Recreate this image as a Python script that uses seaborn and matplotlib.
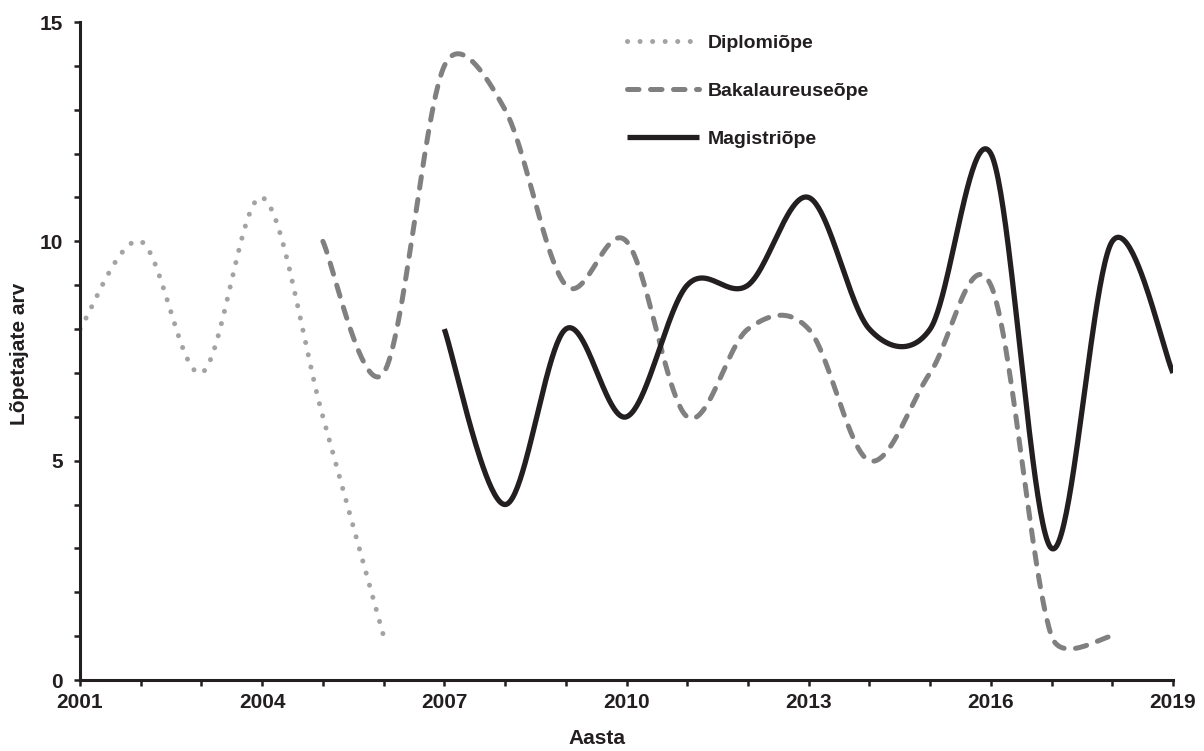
import numpy as np
import pandas as pd
import matplotlib
matplotlib.use("Agg")
import matplotlib.pyplot as plt
import seaborn as sns
from matplotlib.ticker import MultipleLocator, FixedLocator

# ---- data ----
dipl_years = [2001, 2002, 2003, 2004, 2005, 2006]
dipl_vals = [8, 10, 7, 11, 6, 1]

bak_years = [2005, 2006, 2007, 2008, 2009, 2010, 2011, 2012, 2013, 2014, 2015, 2016, 2017, 2018]
bak_vals = [10, 7, 14, 13, 9, 10, 6, 8, 8, 5, 7, 9, 1, 1]

mag_years = [2007, 2008, 2009, 2010, 2011, 2012, 2013, 2014, 2015, 2016, 2017, 2018, 2019]
mag_vals = [8, 4, 8, 6, 9, 9, 11, 8, 8, 12, 3, 10, 7]

series_names = ["Diplomiõpe", "Bakalaureuseõpe", "Magistriõpe"]
x_ticks = [2001, 2004, 2007, 2010, 2013, 2016, 2019]
y_ticks = [0, 5, 10, 15]

# screen scale (px per data unit) used by the Excel-like smoothing
PX_X, PX_Y = 60.7, 43.87


def smooth(xs, ys, n=50):
    """Excel-style smoothed line: Catmull-Rom Bezier with control lengths
    limited to half the segment (in screen space)."""
    P = np.column_stack([np.asarray(xs, float) * PX_X, np.asarray(ys, float) * PX_Y])
    out = []
    t = np.linspace(0, 1, n)[:, None]
    for i in range(len(P) - 1):
        p0 = P[i - 1] if i > 0 else P[i]
        p1, p2 = P[i], P[i + 1]
        p3 = P[i + 2] if i + 2 < len(P) else P[i + 1]
        d12 = np.linalg.norm(p2 - p1)
        v0 = p2 - p0
        v1 = p3 - p1
        f0 = 1 / 6
        f1 = 1 / 6
        n0 = np.linalg.norm(v0)
        n1 = np.linalg.norm(v1)
        if n0 * f0 > d12 / 2:
            f0 = d12 / (2 * n0)
        if n1 * f1 > d12 / 2:
            f1 = d12 / (2 * n1)
        c1 = p1 + v0 * f0
        c2 = p2 - v1 * f1
        B = (1 - t) ** 3 * p1 + 3 * (1 - t) ** 2 * t * c1 + 3 * (1 - t) * t ** 2 * c2 + t ** 3 * p2
        out.append(B if i == 0 else B[1:])
    S = np.vstack(out)
    S[:, 0] /= PX_X
    S[:, 1] /= PX_Y
    return S


sns.set_theme(style="white")
plt.rcParams["font.family"] = ["Liberation Sans", "DejaVu Sans"]

fig = plt.figure(figsize=(12.04, 7.51), dpi=100)
ax = fig.add_axes([80 / 1204, 1 - 680 / 751, (1173 - 80) / 1204, (680 - 22) / 751])

TXT = "#231f20"
styles = [
    dict(color="#a3a3a3", lw=3.6, dashes=(0.01, 2.5)),
    dict(color="#808080", lw=3.6, dashes=(2.3, 2.3)),
    dict(color=TXT, lw=3.8, dashes=None),
]
handles = []
for name, xs, ys, st in zip(series_names, [dipl_years, bak_years, mag_years],
                            [dipl_vals, bak_vals, mag_vals], styles):
    S = smooth(xs, ys)
    df = pd.DataFrame({"Aasta": S[:, 0], "val": S[:, 1]})
    sns.lineplot(data=df, x="Aasta", y="val", ax=ax, sort=False, estimator=None,
                 color=st["color"], lw=st["lw"], legend=False)
    line = ax.lines[-1]
    if st["dashes"] is not None:
        line.set_linestyle((0, st["dashes"]))
        line.set_dash_capstyle("round")
    else:
        line.set_solid_capstyle("butt")
        line.set_solid_joinstyle("round")
    line.set_label(name)
    handles.append(line)

ax.set_xlim(2001, 2019)
ax.set_ylim(0, 15)
ax.xaxis.set_major_locator(FixedLocator(x_ticks))
ax.xaxis.set_minor_locator(MultipleLocator(1))
ax.yaxis.set_major_locator(FixedLocator(y_ticks))
ax.yaxis.set_minor_locator(MultipleLocator(1))
ax.set_xticklabels([str(v) for v in x_ticks], fontweight="bold")
ax.set_yticklabels([str(v) for v in y_ticks], fontweight="bold")

for side in ["top", "right"]:
    ax.spines[side].set_visible(False)
for side in ["left", "bottom"]:
    ax.spines[side].set_color(TXT)
    ax.spines[side].set_linewidth(2.2)

ax.tick_params(axis="both", which="both", direction="out", length=4.5, width=1.8,
               color=TXT, left=True, bottom=True)
ax.tick_params(axis="x", which="major", labelsize=15, pad=4.5, labelcolor=TXT)
ax.tick_params(axis="y", which="major", labelsize=15, pad=8, labelcolor=TXT)
ax.grid(False)

ax.set_xlabel("Aasta", fontsize=15, fontweight="bold", color=TXT)
ax.set_ylabel("Lõpetajate arv", fontsize=15, fontweight="bold", color=TXT)
ax.xaxis.set_label_coords(0.473, -0.0745)
ax.yaxis.set_label_coords(-0.047, 0.495)

leg = fig.legend(handles=handles, labels=series_names, loc="upper left",
                 bbox_to_anchor=(627 / 1204, 1 - 34 / 751), frameon=False,
                 prop=dict(family=["Liberation Sans", "DejaVu Sans"], weight="bold", size=14),
                 handlelength=3.7, handletextpad=0.43,
                 labelspacing=1.58, borderpad=0, borderaxespad=0)
for t in leg.get_texts():
    t.set_color(TXT)

fig.savefig("out.png", dpi=100, facecolor="white")
